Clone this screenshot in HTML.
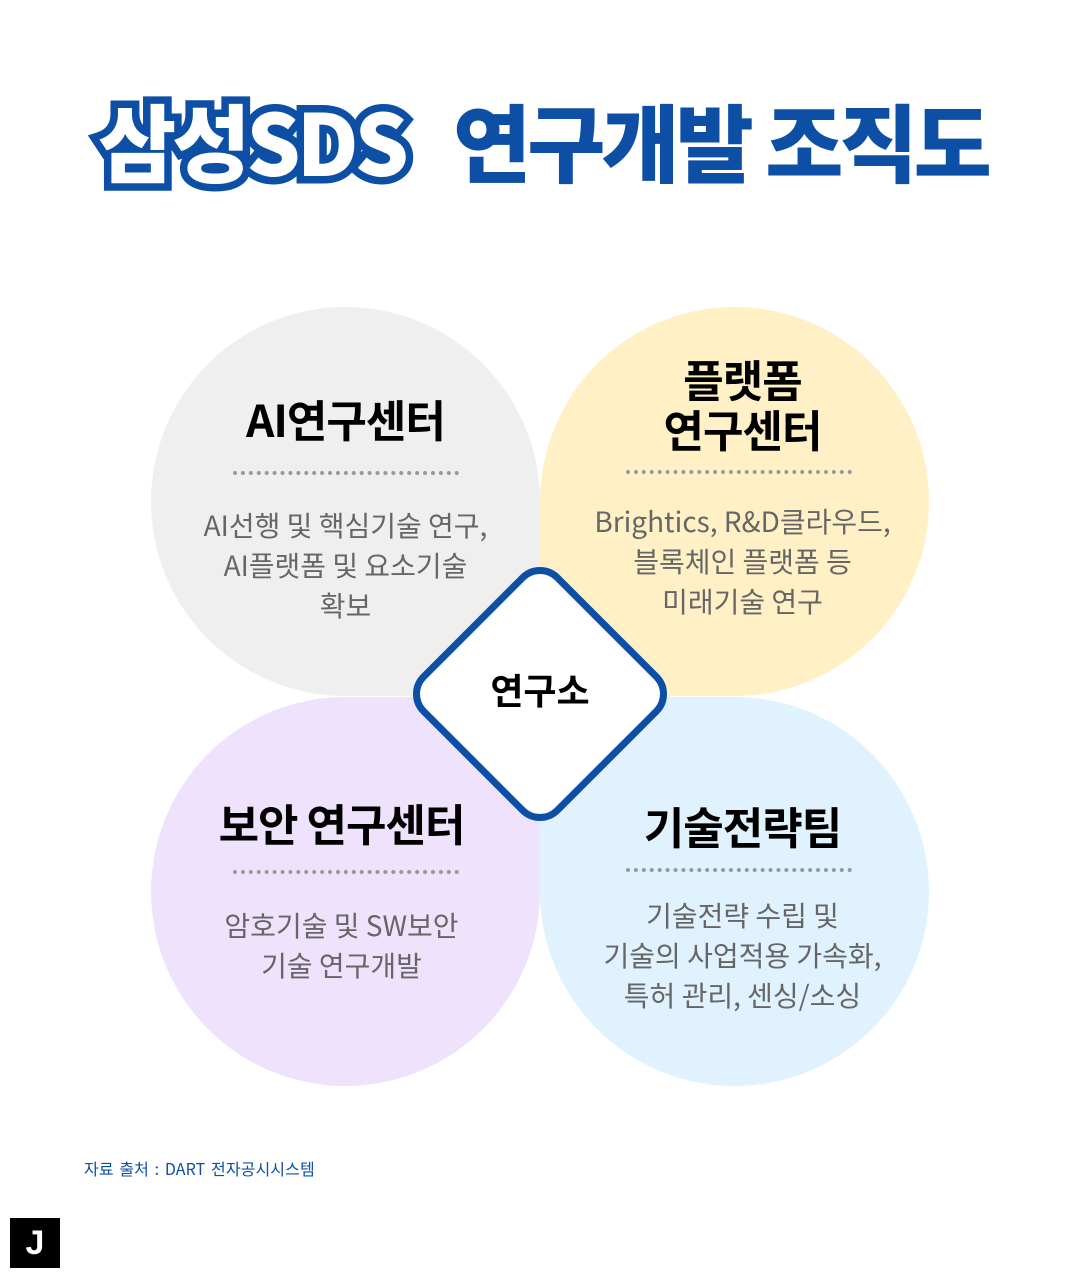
<!DOCTYPE html>
<html><head><meta charset="utf-8"><style>
body{margin:0;width:1080px;height:1280px;background:#fff;position:relative;overflow:hidden;font-family:"Liberation Sans","Noto Sans CJK KR",sans-serif;}
.t{position:absolute;white-space:nowrap;}
.q{position:absolute;width:389px;height:389px;}
.h{position:absolute;left:0;width:100%;text-align:center;font-weight:700;font-size:44px;color:#000;line-height:50px;font-family:"Noto Sans CJK KR",sans-serif;letter-spacing:-1px}
.d{position:absolute;left:50%;transform:translateX(-50%);width:226px;border-top:4px dotted #999;}
.p{position:absolute;left:0;width:100%;text-align:center;font-size:28px;color:#666;line-height:40px;font-family:"Noto Sans CJK KR",sans-serif;}
.r .h,.r .p{left:8px}
.r .d{left:calc(50% + 4px)}
</style></head><body>
<div class="t" style="left:98px;top:80px;font-family:'Noto Sans CJK KR',sans-serif;font-weight:900;font-size:85px;line-height:120px;letter-spacing:-4px;">
<span style="color:#fff;-webkit-text-stroke:15px #0d4fa5;paint-order:stroke fill;">삼성SDS</span><span style="color:#0d4fa5;margin-left:48px;">연구개발 조직도</span></div>

<div class="q" style="left:151px;top:307px;background:#efefef;border-radius:195px 195px 0 195px;">
<div class="h" style="top:86px">AI연구센터</div>
<div class="d" style="top:164px"></div>
<div class="p" style="top:198px">AI선행 및 핵심기술 연구,<br>AI플랫폼 및 요소기술<br>확보</div></div>

<div class="q r" style="left:540px;top:307px;background:#fff0c6;border-radius:195px 195px 195px 0;">
<div class="h" style="top:46px">플랫폼<br>연구센터</div>
<div class="d" style="top:163px"></div>
<div class="p" style="top:194px">Brightics, R&amp;D클라우드,<br>블록체인 플랫폼 등<br>미래기술 연구</div></div>

<div class="q" style="left:151px;top:697px;background:#efe2fd;border-radius:195px 0 195px 195px;">
<div class="h" style="top:100px;left:-4px">보안 연구센터</div>
<div class="d" style="top:173px"></div>
<div class="p" style="top:208px;left:-4px">암호기술 및 SW보안<br>기술 연구개발</div></div>

<div class="q r" style="left:540px;top:697px;background:#dff2fe;border-radius:0 195px 195px 195px;">
<div class="h" style="top:103px">기술전략팀</div>
<div class="d" style="top:171px"></div>
<div class="p" style="top:198px">기술전략 수립 및<br>기술의 사업적용 가속화,<br>특허 관리, 센싱/소싱</div></div>

<div style="position:absolute;left:442px;top:596px;width:182px;height:182px;background:#fff;border:7px solid #0d4fa5;border-radius:28px;transform:rotate(45deg);"></div>
<div class="t" style="left:440px;top:667px;width:200px;text-align:center;font-family:'Noto Sans CJK KR',sans-serif;font-weight:700;font-size:36px;line-height:44px;">연구소</div>

<div class="t" style="left:84px;top:1156px;font-size:16px;letter-spacing:0.1px;word-spacing:2px;color:#0d4fa5;font-family:'Noto Sans CJK KR',sans-serif;">자료 출처 : DART 전자공시시스템</div>
<div style="position:absolute;left:10px;top:1218px;width:50px;height:50px;background:#000;color:#fff;font-weight:700;font-size:34px;line-height:50px;text-align:center;">J</div>
</body></html>
